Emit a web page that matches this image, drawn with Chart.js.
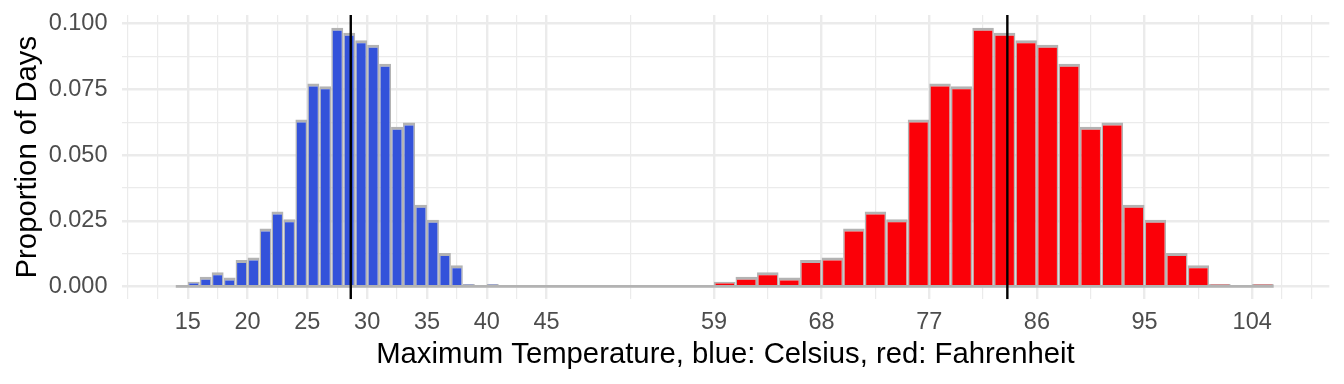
<!DOCTYPE html>
<html>
<head>
<meta charset="utf-8">
<script src="https://cdn.jsdelivr.net/npm/chart.js@4"></script>
<style>
  html, body { margin: 0; padding: 0; background: #fff; }
  canvas { display: block; }
</style>
</head>
<body>
<canvas id="chart-temp" width="1344" height="384"></canvas>
<script>
//------------------------- data -------------------------
// bin centres, 1 degree C wide
var celsiusBins = [14.5, 15.5, 16.5, 17.5, 18.5, 19.5, 20.5, 21.5, 22.5, 23.5, 24.5, 25.5, 26.5,
    27.5, 28.5, 29.5, 30.5, 31.5, 32.5, 33.5, 34.5, 35.5, 36.5, 37.5, 38.5, 39.5, 40.5];
var celsiusProportion = [0, 0.0018, 0.0037, 0.0054, 0.0034, 0.0101, 0.011, 0.022, 0.0285, 0.0256,
    0.0635, 0.0772, 0.0762, 0.0984, 0.0965, 0.0937, 0.092, 0.0847, 0.0608, 0.0624, 0.0311,
    0.0254, 0.0127, 0.0081, 0.0009, 0, 0.0009];

// bin centres, 1.8 degree F wide
var fahrenheitBins = [58.1, 59.9, 61.7, 63.5, 65.3, 67.1, 68.9, 70.7, 72.5, 74.3, 76.1, 77.9, 79.7,
    81.5, 83.3, 85.1, 86.9, 88.7, 90.5, 92.3, 94.1, 95.9, 97.7, 99.5, 101.3, 103.1, 104.9];
var fahrenheitProportion = [0, 0.0018, 0.0037, 0.0054, 0.0034, 0.0101, 0.011, 0.022, 0.0285, 0.0256,
    0.0635, 0.0772, 0.0762, 0.0984, 0.0965, 0.0937, 0.092, 0.0847, 0.0608, 0.0624, 0.0311,
    0.0254, 0.0127, 0.0081, 0.0009, 0, 0.0009];

var meanCelsius = 28.63;
var meanFahrenheit = 83.53;
var baselineRange = [14, 105.8];

var xTickLabels = [15, 20, 25, 30, 35, 40, 45, 59, 68, 77, 86, 95, 104];
var xGridValues = [10, 12.5, 15, 17.5, 20, 22.5, 25, 27.5, 30, 32.5, 35, 37.5, 40, 42.5, 45, 52, 59,
    63.5, 68, 72.5, 77, 81.5, 86, 90.5, 95, 99.5, 104, 106.5, 109];
var yTickLabels = [0, 0.025, 0.05, 0.075, 0.1];
var yGridValues = [0, 0.0125, 0.025, 0.0375, 0.05, 0.0625, 0.075, 0.0875, 0.1];

var xMin = 9.46, xMax = 110.45;
var yMin = -0.0049, yMax = 0.1033;

//------------------------------------------------------------------------------
var FONT = "'Liberation Sans', Arial, Helvetica, sans-serif";
Chart.defaults.font.family = FONT;

function toPoints(xs, ys) {
    return xs.map(function (x, i) { return { x: x, y: ys[i] }; });
}

var barStyle = {
    borderColor: '#B3B3B3',
    borderWidth: { top: 3, left: 1.5, right: 1.5, bottom: 0 },
    categoryPercentage: 1,
    barPercentage: 1,
    grouped: false,
    inflateAmount: 0,
    order: 2
};

var ctx = document.getElementById('chart-temp').getContext('2d');
var chart_temp = new Chart(ctx, {
    type: 'bar',
    data: {
        datasets: [
            Object.assign({
                label: 'Celsius',
                data: toPoints(celsiusBins, celsiusProportion),
                backgroundColor: '#3352DA',
                xAxisID: 'x'
            }, barStyle),
            Object.assign({
                label: 'Fahrenheit',
                data: toPoints(fahrenheitBins, fahrenheitProportion),
                backgroundColor: '#FB0008',
                xAxisID: 'x2'
            }, barStyle),
            {
                type: 'line',
                label: 'zero',
                data: [{ x: baselineRange[0], y: 0 }, { x: baselineRange[1], y: 0 }],
                borderColor: '#B3B3B3',
                borderWidth: 2.8,
                pointRadius: 0,
                xAxisID: 'x',
                order: 1
            },
            {
                type: 'line',
                label: 'mean C',
                data: [{ x: meanCelsius, y: yMin }, { x: meanCelsius, y: yMax }],
                borderColor: '#000000',
                borderWidth: 2.4,
                pointRadius: 0,
                xAxisID: 'x',
                order: 0
            },
            {
                type: 'line',
                label: 'mean F',
                data: [{ x: meanFahrenheit, y: yMin }, { x: meanFahrenheit, y: yMax }],
                borderColor: '#000000',
                borderWidth: 2.4,
                pointRadius: 0,
                xAxisID: 'x',
                order: 0
            }
        ]
    },
    options: {
        responsive: false,
        animation: false,
        devicePixelRatio: 1,
        layout: { padding: { top: 15, right: 14.7, bottom: 0, left: 0 } },
        plugins: {
            legend: { display: false },
            tooltip: { enabled: false }
        },
        scales: {
            x: {
                type: 'linear',
                position: 'bottom',
                offset: false,
                min: xMin,
                max: xMax,
                afterBuildTicks: function (s) {
                    s.ticks = xGridValues.map(function (v) { return { value: v }; });
                },
                afterFit: function (s) {
                    s.height = 84.7;
                    s.paddingLeft = 0;
                    s.paddingRight = 0;
                },
                ticks: {
                    autoSkip: false,
                    maxRotation: 0,
                    padding: 9,
                    color: '#4D4D4D',
                    font: { size: 23.5 },
                    callback: function (v) {
                        return xTickLabels.indexOf(v) >= 0 ? String(v) : '';
                    }
                },
                grid: {
                    offset: false,
                    color: '#EBEBEB',
                    drawTicks: false,
                    lineWidth: function (c) {
                        return c.tick && xTickLabels.indexOf(c.tick.value) >= 0 ? 2.4 : 1.2;
                    }
                },
                border: { display: false },
                title: {
                    display: true,
                    text: 'Maximum Temperature, blue: Celsius, red: Fahrenheit',
                    color: '#000000',
                    font: { size: 29.3 },
                    padding: { top: 0, bottom: 11.4 }
                }
            },
            x2: {
                type: 'linear',
                position: 'bottom',
                display: false,
                offset: false,
                grid: { offset: false },
                min: xMin,
                max: xMax,
                afterBuildTicks: function (s) {
                    s.ticks = [{ value: xMin }, { value: xMax }];
                }
            },
            y: {
                min: yMin,
                max: yMax,
                afterBuildTicks: function (s) {
                    s.ticks = yGridValues.map(function (v) { return { value: v }; });
                },
                afterFit: function (s) {
                    s.width = 121.5;
                    s.paddingTop = 0;
                    s.paddingBottom = 0;
                },
                ticks: {
                    autoSkip: false,
                    padding: 14,
                    color: '#4D4D4D',
                    font: { size: 23.5 },
                    callback: function (v) {
                        return yTickLabels.indexOf(v) >= 0 ? v.toFixed(3) : '';
                    }
                },
                grid: {
                    color: '#EBEBEB',
                    drawTicks: false,
                    lineWidth: function (c) {
                        return c.tick && yTickLabels.indexOf(c.tick.value) >= 0 ? 2.4 : 1.2;
                    }
                },
                border: { display: false },
                title: {
                    display: true,
                    text: 'Proportion of Days',
                    color: '#000000',
                    font: { size: 29.3 },
                    padding: { top: 10.4, bottom: 0 }
                }
            }
        }
    }
});
</script>
</body>
</html>
